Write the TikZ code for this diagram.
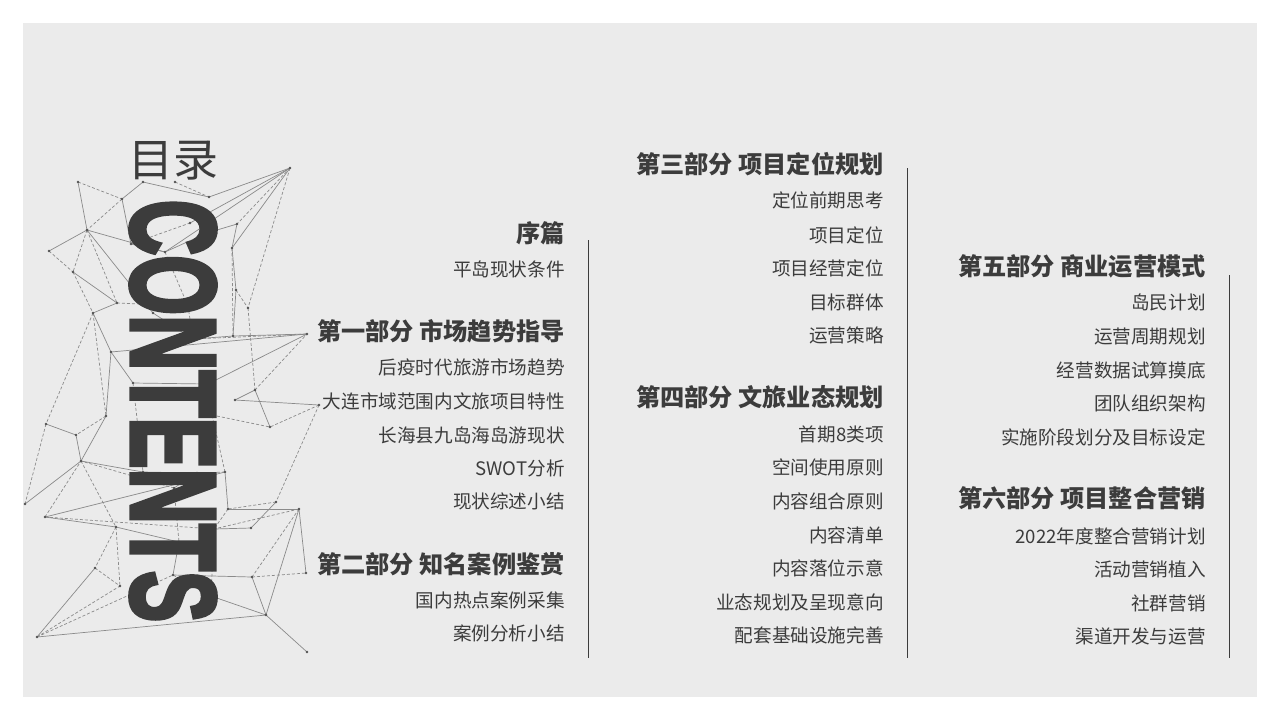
\documentclass[tikz,border=0pt]{standalone}
\usepackage{fontspec}
\setmainfont{Noto Sans CJK SC}
\newfontfamily\latinb{Liberation Sans Bold}[FakeBold=4]
\definecolor{bg}{HTML}{EBEBEB}
\definecolor{tx}{HTML}{3C3C3C}
\definecolor{ln}{HTML}{8A8A8A}
\tikzset{
 head/.style={anchor=east,text=tx,font=\fontsize{12.1}{13}\selectfont\bfseries,inner sep=0},
 item/.style={anchor=east,text=tx,font=\fontsize{9.3}{10}\selectfont,inner sep=0},
 sep/.style={draw=tx,line width=0.5pt},
 net/.style={draw=ln,line width=0.35pt},
 netd/.style={draw=ln,line width=0.35pt,dash pattern=on 1.5pt off 1pt},
}
\begin{document}
\begin{tikzpicture}[x=0.5pt,y=-0.5pt]
\useasboundingbox (0,0) rectangle (1280,720);
\fill[white] (0,0) rectangle (1280,720);
\fill[bg] (23,23) rectangle (1257,697);
% network
\foreach \n/\x/\y in {1/78/182,2/143/182,3/175/182,4/290/168,5/122/199,6/209/197,7/87/230,8/190/223,9/207/233,10/237/224,11/49/251,12/131/244,13/165/252,14/232/248,15/73/272,16/236/290,17/117/303,18/93/313,19/153/313,20/188/306,21/248/308,22/233/336,23/193/339,24/307/334,25/111/352,26/133/383,27/208/384,28/255/390,29/235/400,30/319/405,31/106/416,32/212/415,33/270/427,34/46/424,35/76/435,36/81/461,37/143/472,38/197/473,39/225/472,40/174/488,41/276/502,42/25/504,43/228/509,44/299/509,45/45/517,46/116/527,47/214/529,48/251/528,49/179/542,50/95/568,51/306/573,52/173/575,53/252/577,54/120/586,55/211/596,56/266/615,57/37/637,58/307/652}
  \coordinate (p\n) at (\x,\y);
\foreach \a/\b in {4/6,4/8,4/14,4/13,1/7,2/6,5/12,7/11,7/13,7/19,12/13,13/9,9/10,14/16,16/22,15/17,17/18,18/25,19/23,23/22,22/24,25/24,25/31,26/27,25/26,27/32,28/29,28/33,30/29,24/27,34/35,35/36,36/37,36/31,37/38,38/40,39/43,41/48,43/44,44/51,44/56,45/46,45/39,46/49,49/52,52/53,53/56,56/58,57/50,57/56,42/36,47/48,55/56,2/5,10/14}
  \draw[net] (p\a) -- (p\b);
\foreach \a/\b in {4/10,4/21,1/5,3/6,5/7,7/15,7/17,11/15,12/8,13/20,16/21,14/22,15/18,17/20,18/31,18/34,20/23,23/24,26/37,28/24,30/33,30/41,31/35,34/42,36/46,38/39,39/32,40/49,40/36,41/43,43/47,44/47,44/53,45/47,45/36,46/50,46/54,50/54,53/51,55/52,57/52,57/54,32/33,47/55,21/28}
  \draw[netd] (p\a) -- (p\b);
\foreach \n in {1,...,58} \fill[ln!60!black] (p\n) circle (1.3);
% CONTENTS
\node[rotate=-90,text=tx,inner sep=0,font=\latinb\fontsize{60}{60}\selectfont,xscale=0.64] (cont) at (173,411) {CONTENTS};
\node[text=tx,font=\fontsize{22.5}{24}\selectfont,inner sep=0] (title) at (173,161) {目录};
% column 1
\node[head] (h0) at (565,233) {序篇};
\node[item] (a1) at (565,269) {平岛现状条件};
\node[head] (h1) at (565,331) {第一部分 市场趋势指导};
\node[item] (b1) at (565,367) {后疫时代旅游市场趋势};
\node[item] (b2) at (565,401) {大连市域范围内文旅项目特性};
\node[item] (b3) at (565,435) {长海县九岛海岛游现状};
\node[item] (b4) at (565,468) {SWOT分析};
\node[item] (b5) at (565,501) {现状综述小结};
\node[head] (h2) at (565,564) {第二部分 知名案例鉴赏};
\node[item] (c1) at (565,600) {国内热点案例采集};
\node[item] (c2) at (565,633) {案例分析小结};
\draw[sep] (588,240) -- (588,658);
% column 2
\node[head] (h3) at (884,164) {第三部分 项目定位规划};
\node[item] (d1) at (884,200) {定位前期思考};
\node[item] (d2) at (884,235) {项目定位};
\node[item] (d3) at (884,268) {项目经营定位};
\node[item] (d4) at (884,302) {目标群体};
\node[item] (d5) at (884,335) {运营策略};
\node[head] (h4) at (884,397) {第四部分 文旅业态规划};
\node[item] (e1) at (884,434) {首期8类项};
\node[item] (e2) at (884,467) {空间使用原则};
\node[item] (e3) at (884,501) {内容组合原则};
\node[item] (e4) at (884,535) {内容清单};
\node[item] (e5) at (884,568) {内容落位示意};
\node[item] (e6) at (884,602) {业态规划及呈现意向};
\node[item] (e7) at (884,635) {配套基础设施完善};
\draw[sep] (907,168) -- (907,658);
% column 3
\node[head] (h5) at (1206,266) {第五部分 商业运营模式};
\node[item] (f1) at (1206,302) {岛民计划};
\node[item] (f2) at (1206,336) {运营周期规划};
\node[item] (f3) at (1206,370) {经营数据试算摸底};
\node[item] (f4) at (1206,403) {团队组织架构};
\node[item] (f5) at (1206,437) {实施阶段划分及目标设定};
\node[head] (h6) at (1206,498) {第六部分 项目整合营销};
\node[item] (g1) at (1206,536) {2022年度整合营销计划};
\node[item] (g2) at (1206,569) {活动营销植入};
\node[item] (g3) at (1206,603) {社群营销};
\node[item] (g4) at (1206,636) {渠道开发与运营};
\draw[sep] (1229,275) -- (1229,658);
\end{tikzpicture}
\end{document}
